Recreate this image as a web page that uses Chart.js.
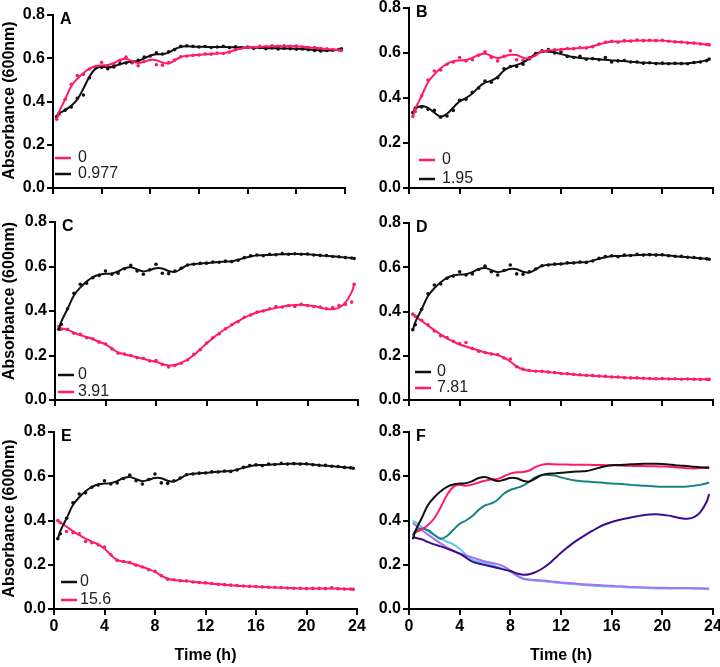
<!DOCTYPE html>
<html>
<head>
<meta charset="utf-8">
<script src="https://cdn.jsdelivr.net/npm/chart.js@4.4.1/dist/chart.umd.min.js"></script>
<style>
  body { margin: 0; background: #fff; width: 720px; height: 667px; position: relative; overflow: hidden; }
  .panel { position: absolute; }
</style>
</head>
<body>
<div id="wrap"></div>
<script>
// time points (h)
const hours = [0.3, 0.5, 1, 1.5, 2, 2.5, 3, 3.5, 4, 4.5, 5, 5.5, 6, 6.5, 7, 7.5, 8, 8.5, 9, 9.5,
  10, 10.5, 11, 11.5, 12, 12.5, 13, 13.5, 14, 14.5, 15, 15.5, 16, 16.5, 17, 17.5, 18, 18.5, 19, 19.5,
  20, 20.5, 21, 21.5, 22, 22.5, 23, 23.5, 23.7];

// fitted curves
const control = [0.315, 0.352, 0.41, 0.47, 0.505, 0.532, 0.552, 0.563, 0.567, 0.569, 0.578, 0.592, 0.597, 0.587, 0.578, 0.584, 0.592, 0.591, 0.58, 0.576,
  0.59, 0.606, 0.611, 0.613, 0.616, 0.618, 0.62, 0.622, 0.624, 0.63, 0.638, 0.645, 0.65, 0.651, 0.652, 0.654, 0.655, 0.656, 0.656, 0.656,
  0.655, 0.653, 0.65, 0.648, 0.646, 0.643, 0.641, 0.638, 0.637];
const c0977 = [0.333, 0.345, 0.36, 0.38, 0.41, 0.46, 0.515, 0.552, 0.561, 0.557, 0.563, 0.572, 0.58, 0.585, 0.588, 0.6, 0.612, 0.618, 0.619, 0.626,
  0.642, 0.652, 0.655, 0.654, 0.653, 0.653, 0.652, 0.652, 0.652, 0.651, 0.651, 0.65, 0.65, 0.649, 0.648, 0.647, 0.646, 0.646, 0.645, 0.645,
  0.644, 0.643, 0.641, 0.638, 0.636, 0.635, 0.637, 0.641, 0.643];
const c195 = [0.332, 0.352, 0.364, 0.356, 0.335, 0.318, 0.33, 0.358, 0.385, 0.4, 0.42, 0.448, 0.468, 0.477, 0.494, 0.522, 0.538, 0.547, 0.558, 0.576,
  0.596, 0.605, 0.606, 0.603, 0.595, 0.588, 0.582, 0.578, 0.576, 0.574, 0.572, 0.57, 0.567, 0.566, 0.564, 0.561, 0.559, 0.557, 0.556, 0.554,
  0.553, 0.553, 0.553, 0.553, 0.554, 0.557, 0.561, 0.568, 0.572];
const c391 = [0.327, 0.322, 0.315, 0.303, 0.292, 0.283, 0.273, 0.262, 0.25, 0.232, 0.214, 0.206, 0.199, 0.192, 0.185, 0.178, 0.172, 0.161, 0.155, 0.157,
  0.167, 0.182, 0.202, 0.228, 0.254, 0.278, 0.3, 0.319, 0.337, 0.354, 0.37, 0.383, 0.393, 0.401, 0.408, 0.414, 0.419, 0.424, 0.427, 0.428,
  0.426, 0.422, 0.416, 0.41, 0.408, 0.415, 0.438, 0.485, 0.52];
const c781 = [0.389, 0.38, 0.357, 0.336, 0.316, 0.297, 0.279, 0.264, 0.251, 0.242, 0.233, 0.224, 0.215, 0.209, 0.203, 0.192, 0.174, 0.152, 0.138, 0.133,
  0.131, 0.129, 0.127, 0.123, 0.12, 0.118, 0.116, 0.113, 0.111, 0.11, 0.108, 0.106, 0.105, 0.103, 0.102, 0.1, 0.099, 0.098, 0.097, 0.096,
  0.096, 0.095, 0.095, 0.095, 0.095, 0.094, 0.094, 0.093, 0.093];
const c156 = [0.399, 0.392, 0.372, 0.352, 0.334, 0.318, 0.304, 0.292, 0.272, 0.245, 0.222, 0.214, 0.208, 0.2, 0.19, 0.18, 0.168, 0.151, 0.137, 0.131,
  0.128, 0.126, 0.123, 0.12, 0.117, 0.114, 0.112, 0.11, 0.107, 0.105, 0.104, 0.102, 0.101, 0.1, 0.098, 0.097, 0.096, 0.095, 0.094, 0.093,
  0.093, 0.093, 0.093, 0.093, 0.093, 0.092, 0.091, 0.09, 0.089];

// measured points
const controlDots = [0.318, 0.34, 0.41, 0.48, 0.52, 0.525, 0.55, 0.56, 0.58, 0.565, 0.57, 0.59, 0.605, 0.58, 0.565, 0.585, 0.61, 0.57, 0.568, 0.58,
  0.592, 0.607, 0.61, 0.614, 0.615, 0.62, 0.619, 0.624, 0.622, 0.628, 0.64, 0.648, 0.652, 0.648, 0.655, 0.653, 0.658, 0.655, 0.657, 0.655,
  0.656, 0.652, 0.65, 0.649, 0.645, 0.644, 0.64, 0.638, 0.636];
const c0977Dots = [0.33, 0.345, 0.36, 0.375, 0.415, 0.43, 0.51, 0.555, 0.558, 0.552, 0.56, 0.575, 0.578, 0.58, 0.59, 0.605, 0.61, 0.625, 0.62, 0.63,
  0.64, 0.655, 0.658, 0.655, 0.652, 0.654, 0.65, 0.652, 0.655, 0.65, 0.653, 0.649, 0.651, 0.645, 0.65, 0.644, 0.648, 0.643, 0.646, 0.644,
  0.642, 0.643, 0.64, 0.636, 0.634, 0.636, 0.637, 0.64, 0.644];
const c195Dots = [0.335, 0.355, 0.36, 0.35, 0.345, 0.315, 0.32, 0.345, 0.39, 0.395, 0.425, 0.445, 0.475, 0.47, 0.49, 0.53, 0.54, 0.54, 0.55, 0.575,
  0.598, 0.61, 0.615, 0.6, 0.605, 0.585, 0.58, 0.585, 0.572, 0.575, 0.57, 0.58, 0.56, 0.565, 0.567, 0.56, 0.56, 0.555, 0.557, 0.553,
  0.555, 0.552, 0.554, 0.553, 0.552, 0.558, 0.56, 0.566, 0.573];
const c391Dots = [0.33, 0.318, 0.318, 0.3, 0.295, 0.28, 0.275, 0.26, 0.252, 0.23, 0.21, 0.207, 0.2, 0.19, 0.187, 0.175, 0.177, 0.16, 0.148, 0.155,
  0.165, 0.18, 0.205, 0.226, 0.256, 0.28, 0.298, 0.32, 0.338, 0.352, 0.372, 0.382, 0.395, 0.4, 0.41, 0.42, 0.418, 0.425, 0.42, 0.43,
  0.425, 0.42, 0.418, 0.41, 0.415, 0.425, 0.43, 0.44, 0.52];
const c781Dots = [0.388, 0.378, 0.36, 0.34, 0.312, 0.29, 0.282, 0.265, 0.255, 0.26, 0.232, 0.22, 0.215, 0.208, 0.205, 0.19, 0.185, 0.15, 0.14, 0.133,
  0.13, 0.13, 0.126, 0.124, 0.12, 0.119, 0.115, 0.114, 0.112, 0.11, 0.108, 0.107, 0.104, 0.104, 0.101, 0.1, 0.1, 0.098, 0.097, 0.096,
  0.097, 0.095, 0.096, 0.094, 0.095, 0.094, 0.093, 0.094, 0.093];
const c156Dots = [0.4, 0.39, 0.35, 0.345, 0.34, 0.305, 0.3, 0.29, 0.28, 0.245, 0.22, 0.215, 0.21, 0.198, 0.19, 0.178, 0.17, 0.15, 0.135, 0.132,
  0.128, 0.127, 0.122, 0.12, 0.118, 0.115, 0.112, 0.11, 0.108, 0.106, 0.104, 0.103, 0.102, 0.1, 0.098, 0.098, 0.097, 0.095, 0.094, 0.094,
  0.092, 0.093, 0.093, 0.092, 0.096, 0.092, 0.09, 0.09, 0.089];

const xTicks = [0, 4, 8, 12, 16, 20, 24];
const yTicks = [0.0, 0.2, 0.4, 0.6, 0.8];

const PINK = "#ff1a6c";
const BLACK = "#111111";
const TEAL = "#1a8282";
const PURPLE = "#3d0c8c";
const LAVENDER = "#a672f2";
const SKY = "#62c6f6";
const FONT = "'Liberation Sans', Arial, Helvetica, sans-serif";

// area = [left, top, right, bottom] in page pixels
const panels = [
  { letter: "A", area: [53, 15, 345, 188], leftCol: true, bottomRow: false, titleShift: -1,
    legend: { x: 2, tx: 25, rows: [-30, -14] },
    series: [
      { label: "0", line: control, dots: controlDots, color: PINK },
      { label: "0.977", line: c0977, dots: c0977Dots, color: BLACK },
    ] },
  { letter: "B", area: [409, 8, 713, 188], leftCol: false, bottomRow: false,
    legend: { x: 10, tx: 33, rows: [-28, -9] },
    series: [
      { label: "0", line: control, dots: controlDots, color: PINK },
      { label: "1.95", line: c195, dots: c195Dots, color: BLACK },
    ] },
  { letter: "C", area: [55, 222, 358, 400], leftCol: true, bottomRow: false, titleShift: -10,
    legend: { x: 3, tx: 23, rows: [-25, -8] },
    series: [
      { label: "0", line: control, dots: controlDots, color: BLACK },
      { label: "3.91", line: c391, dots: c391Dots, color: PINK },
    ] },
  { letter: "D", area: [409, 223, 713, 400], leftCol: false, bottomRow: false,
    legend: { x: 6, tx: 28, rows: [-28, -12] },
    series: [
      { label: "0", line: control, dots: controlDots, color: BLACK },
      { label: "7.81", line: c781, dots: c781Dots, color: PINK },
    ] },
  { letter: "E", area: [54, 432, 357, 609], leftCol: true, bottomRow: true, titleShift: -2,
    legend: { x: 7, tx: 26, rows: [-27, -9] },
    series: [
      { label: "0", line: control, dots: controlDots, color: BLACK },
      { label: "15.6", line: c156, dots: c156Dots, color: PINK },
    ] },
  // first series ends up on top
  { letter: "F", area: [409, 432, 713, 609], leftCol: false, bottomRow: true, legend: null,
    series: [
      { label: "0", line: control, color: BLACK },
      { label: "0.977", line: c0977, color: PINK },
      { label: "3.91", line: c391, color: PURPLE },
      { label: "1.95", line: c195, color: TEAL },
      { label: "7.81", line: c781, color: LAVENDER },
      { label: "15.6", line: c156, color: SKY },
    ] },
];

function toPoints(values) {
  return hours.map((h, i) => ({ x: h, y: values[i] }));
}

const panelDecor = {
  id: "panelDecor",
  afterDraw(chart, args, opts) {
    const { ctx, chartArea } = chart;
    ctx.save();
    ctx.fillStyle = "#000";
    ctx.textBaseline = "middle";
    ctx.textAlign = "left";
    ctx.font = "bold 16px " + FONT;
    ctx.fillText(opts.letter, chartArea.left + 7, chartArea.top + 5);

    if (opts.legend) {
      ctx.font = "16px " + FONT;
      opts.series.forEach((s, i) => {
        const y = chartArea.bottom + opts.legend.rows[i];
        ctx.strokeStyle = s.color;
        ctx.lineWidth = 2.5;
        ctx.beginPath();
        ctx.moveTo(chartArea.left + opts.legend.x, y);
        ctx.lineTo(chartArea.left + opts.legend.x + 16, y);
        ctx.stroke();
        ctx.fillStyle = "#222";
        ctx.fillText(s.label, chartArea.left + opts.legend.tx, y);
      });
    }

    if (opts.yTitle) {
      ctx.font = "bold 16px " + FONT;
      ctx.fillStyle = "#000";
      ctx.textAlign = "center";
      ctx.translate(10, (chartArea.top + chartArea.bottom) / 2 + opts.titleShift);
      ctx.rotate(-Math.PI / 2);
      ctx.fillText("Absorbance (600nm)", 0, 0);
    }
    ctx.restore();
  },
};

const wrap = document.getElementById("wrap");

panels.forEach((p) => {
  const [left, top, right, bottom] = p.area;
  const padL = p.leftCol ? left : 50;
  const padT = 12;
  const padR = 14;
  const padB = p.bottomRow ? 56 : 12;
  const w = right - left + padL + padR;
  const h = bottom - top + padT + padB;

  const div = document.createElement("div");
  div.className = "panel";
  div.style.left = left - padL + "px";
  div.style.top = top - padT + "px";
  div.style.width = w + "px";
  div.style.height = h + "px";
  const canvas = document.createElement("canvas");
  canvas.width = w;
  canvas.height = h;
  div.appendChild(canvas);
  wrap.appendChild(div);

  const datasets = [];
  p.series.forEach((s) => {
    datasets.push({
      label: s.label,
      data: toPoints(s.line),
      borderColor: s.color,
      borderWidth: 2,
      pointRadius: 0,
      tension: 0.4,
      fill: false,
      order: 1,
    });
    if (s.dots) {
      datasets.push({
        label: s.label + " pts",
        data: toPoints(s.dots),
        showLine: false,
        pointRadius: 1.8,
        pointBorderWidth: 0,
        pointBackgroundColor: s.color,
        order: 2,
      });
    }
  });

  const axisGrid = { drawOnChartArea: false, drawTicks: true, tickLength: 6, color: "#000", lineWidth: 2 };
  const axisBorder = { display: true, color: "#000", width: 2 };
  const tickFont = { family: FONT, size: 16, weight: "bold" };

  new Chart(canvas, {
    type: "line",
    data: { datasets },
    options: {
      responsive: false,
      animation: false,
      layout: { padding: { left: 0, top: padT, right: padR, bottom: 0 } },
      plugins: {
        legend: { display: false },
        tooltip: { enabled: false },
        panelDecor: { letter: p.letter, legend: p.legend, series: p.series, yTitle: p.leftCol, titleShift: p.titleShift || 0 },
      },
      scales: {
        x: {
          type: "linear",
          min: xTicks[0],
          max: xTicks[xTicks.length - 1],
          afterBuildTicks: (axis) => { axis.ticks = xTicks.map((v) => ({ value: v })); },
          ticks: { display: p.bottomRow, font: tickFont, color: "#000", padding: 2, maxRotation: 0, autoSkip: false },
          grid: axisGrid,
          border: axisBorder,
          title: { display: p.bottomRow, text: "Time (h)", color: "#000", font: tickFont, padding: 0 },
          afterFit: (axis) => { axis.height = padB; },
        },
        y: {
          min: yTicks[0],
          max: yTicks[yTicks.length - 1],
          afterBuildTicks: (axis) => { axis.ticks = yTicks.map((v) => ({ value: v })); },
          ticks: { font: tickFont, color: "#000", padding: 2, callback: (v) => Number(v).toFixed(1) },
          grid: axisGrid,
          border: axisBorder,
          afterFit: (axis) => { axis.width = padL; },
        },
      },
    },
    plugins: [panelDecor],
  });
});
</script>
</body>
</html>
